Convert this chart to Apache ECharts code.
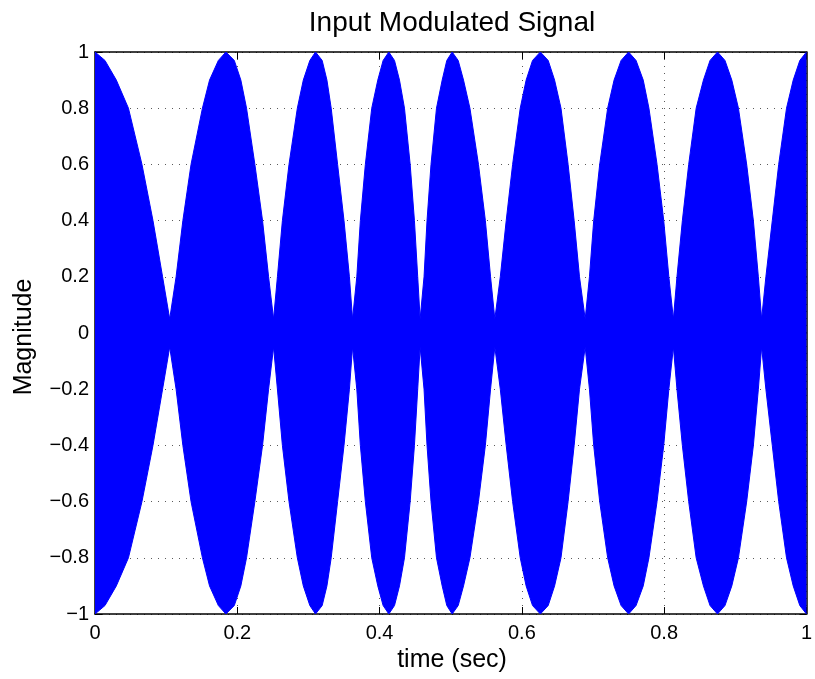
<!DOCTYPE html>
<html>
<head>
<meta charset="utf-8">
<script src="https://cdn.jsdelivr.net/npm/echarts@6/dist/echarts.min.js"></script>
<style>
html,body{margin:0;padding:0;background:#fff;}
#chart{width:815px;height:679px;}
</style>
</head>
<body>
<div id="chart"></div>
<script>
// Envelope of the modulated signal
const envTime = [
  0, 0.014, 0.030, 0.047, 0.066, 0.0815, 0.095, 0.105,
  0.114, 0.1235, 0.135, 0.151, 0.161, 0.1734, 0.184, 0.1958, 0.205, 0.213, 0.2247, 0.2355, 0.244, 0.251,
  0.2564, 0.2634, 0.2727, 0.2844, 0.2928, 0.302, 0.310, 0.3193, 0.326, 0.332, 0.341, 0.350, 0.3576, 0.362,
  0.368, 0.373, 0.380, 0.389, 0.3975, 0.405, 0.413, 0.421, 0.428, 0.435, 0.443, 0.449, 0.4536, 0.457,
  0.4625, 0.4667, 0.4723, 0.480, 0.488, 0.4945, 0.502, 0.5105, 0.518, 0.527, 0.539, 0.5487, 0.556, 0.562,
  0.5697, 0.578, 0.587, 0.5977, 0.606, 0.615, 0.626, 0.637, 0.646, 0.655, 0.665, 0.6735, 0.681, 0.689,
  0.695, 0.701, 0.7094, 0.7206, 0.7296, 0.7395, 0.750, 0.7605, 0.7706, 0.7786, 0.790, 0.7994, 0.8066, 0.813,
  0.818, 0.8256, 0.8345, 0.845, 0.8552, 0.8645, 0.875, 0.8855, 0.8951, 0.9044, 0.916, 0.9254, 0.9324, 0.937,
  0.943, 0.952, 0.961, 0.972, 0.9814, 0.9907, 1.0
];
const envMag = [
  1, 0.97, 0.9, 0.8, 0.6, 0.4, 0.2, 0.05,
  0.2, 0.4, 0.6, 0.8, 0.9, 0.97, 1, 0.97, 0.9, 0.8, 0.6, 0.4, 0.2, 0.05,
  0.2, 0.4, 0.6, 0.8, 0.9, 0.97, 1, 0.97, 0.9, 0.8, 0.6, 0.4, 0.2, 0.05,
  0.2, 0.4, 0.6, 0.8, 0.9, 0.97, 1, 0.97, 0.9, 0.8, 0.6, 0.4, 0.2, 0.05,
  0.2, 0.4, 0.6, 0.8, 0.9, 0.97, 1, 0.97, 0.9, 0.8, 0.6, 0.4, 0.2, 0.05,
  0.2, 0.4, 0.6, 0.8, 0.9, 0.97, 1, 0.97, 0.9, 0.8, 0.6, 0.4, 0.2, 0.05,
  0.2, 0.4, 0.6, 0.8, 0.9, 0.97, 1, 0.97, 0.9, 0.8, 0.6, 0.4, 0.2, 0.05,
  0.2, 0.4, 0.6, 0.8, 0.9, 0.97, 1, 0.97, 0.9, 0.8, 0.6, 0.4, 0.2, 0.05,
  0.2, 0.4, 0.6, 0.8, 0.9, 0.97, 1
];
const xTicks = [0, 0.2, 0.4, 0.6, 0.8, 1];
const yTicks = [-1, -0.8, -0.6, -0.4, -0.2, 0, 0.2, 0.4, 0.6, 0.8, 1];
const titleText = 'Input Modulated Signal';
const xLabel = 'time (sec)';
const yLabel = 'Magnitude';

const upper = envTime.map((t, i) => [t, envMag[i]]);
const lower = envTime.map((t, i) => [t, -envMag[i]]);

const FONT = '"Liberation Sans", Arial, Helvetica, sans-serif';
const fmt = v => {
  const r = parseFloat(Number(v).toFixed(1));
  return r < 0 ? '\u2212' + String(-r) : String(r);
};
const grid = {left: 95, right: 5, top: 52, bottom: 65};
const splitStyle = {show: true, lineStyle: {color: '#5a5a5a', width: 1, type: [1, 6]}};
const lineSty = {color: '#000', width: 1.5};

const chart = echarts.init(document.getElementById('chart'), null, {renderer: 'canvas'});
chart.setOption({
  animation: false,
  backgroundColor: '#fff',
  grid: grid,
  xAxis: [{
    type: 'value', min: xTicks[0], max: xTicks[xTicks.length - 1], interval: 0.2,
    position: 'bottom',
    axisLine: {show: true, onZero: false, lineStyle: lineSty},
    axisTick: {show: true, inside: true, length: 7, lineStyle: {color: '#000', width: 1}},
    axisLabel: {color: '#000', fontFamily: FONT, fontSize: 20, margin: 9, formatter: fmt},
    splitLine: splitStyle
  }, {
    type: 'value', min: xTicks[0], max: xTicks[xTicks.length - 1], interval: 0.2,
    position: 'top',
    axisLine: {show: true, onZero: false, lineStyle: lineSty},
    axisTick: {show: true, inside: true, length: 7, lineStyle: {color: '#000', width: 1}},
    axisLabel: {show: false},
    splitLine: {show: false}
  }],
  yAxis: [{
    type: 'value', min: yTicks[0], max: yTicks[yTicks.length - 1], interval: 0.2,
    position: 'left',
    axisLine: {show: true, onZero: false, lineStyle: lineSty},
    axisTick: {show: true, inside: true, length: 7, lineStyle: {color: '#000', width: 1}},
    axisLabel: {color: '#000', fontFamily: FONT, fontSize: 20, margin: 6, formatter: fmt},
    splitLine: splitStyle
  }, {
    type: 'value', min: yTicks[0], max: yTicks[yTicks.length - 1], interval: 0.2,
    position: 'right',
    axisLine: {show: true, onZero: false, lineStyle: lineSty},
    axisTick: {show: true, inside: true, length: 7, lineStyle: {color: '#000', width: 1}},
    axisLabel: {show: false},
    splitLine: {show: false}
  }],
  series: [{
    type: 'line', data: upper, xAxisIndex: 0, yAxisIndex: 0,
    showSymbol: false, symbol: 'none', smooth: false,
    lineStyle: {color: '#0000ff', width: 1},
    areaStyle: {color: '#0000ff', opacity: 1, origin: 0},
    z: 5
  }, {
    type: 'line', data: lower, xAxisIndex: 0, yAxisIndex: 0,
    showSymbol: false, symbol: 'none', smooth: false,
    lineStyle: {color: '#0000ff', width: 1},
    areaStyle: {color: '#0000ff', opacity: 1, origin: 0},
    z: 5
  }],
  graphic: [{
    type: 'text', x: 452, y: 23,
    style: {text: titleText, fill: '#000', font: '28px ' + FONT, align: 'center', verticalAlign: 'middle'}
  }, {
    type: 'text', x: 452, y: 660,
    style: {text: xLabel, fill: '#000', font: '25px ' + FONT, align: 'center', verticalAlign: 'middle'}
  }, {
    type: 'text', x: 24, y: 337, rotation: Math.PI / 2,
    style: {text: yLabel, fill: '#000', font: '25px ' + FONT, align: 'center', verticalAlign: 'middle'}
  }]
});
</script>
</body>
</html>
